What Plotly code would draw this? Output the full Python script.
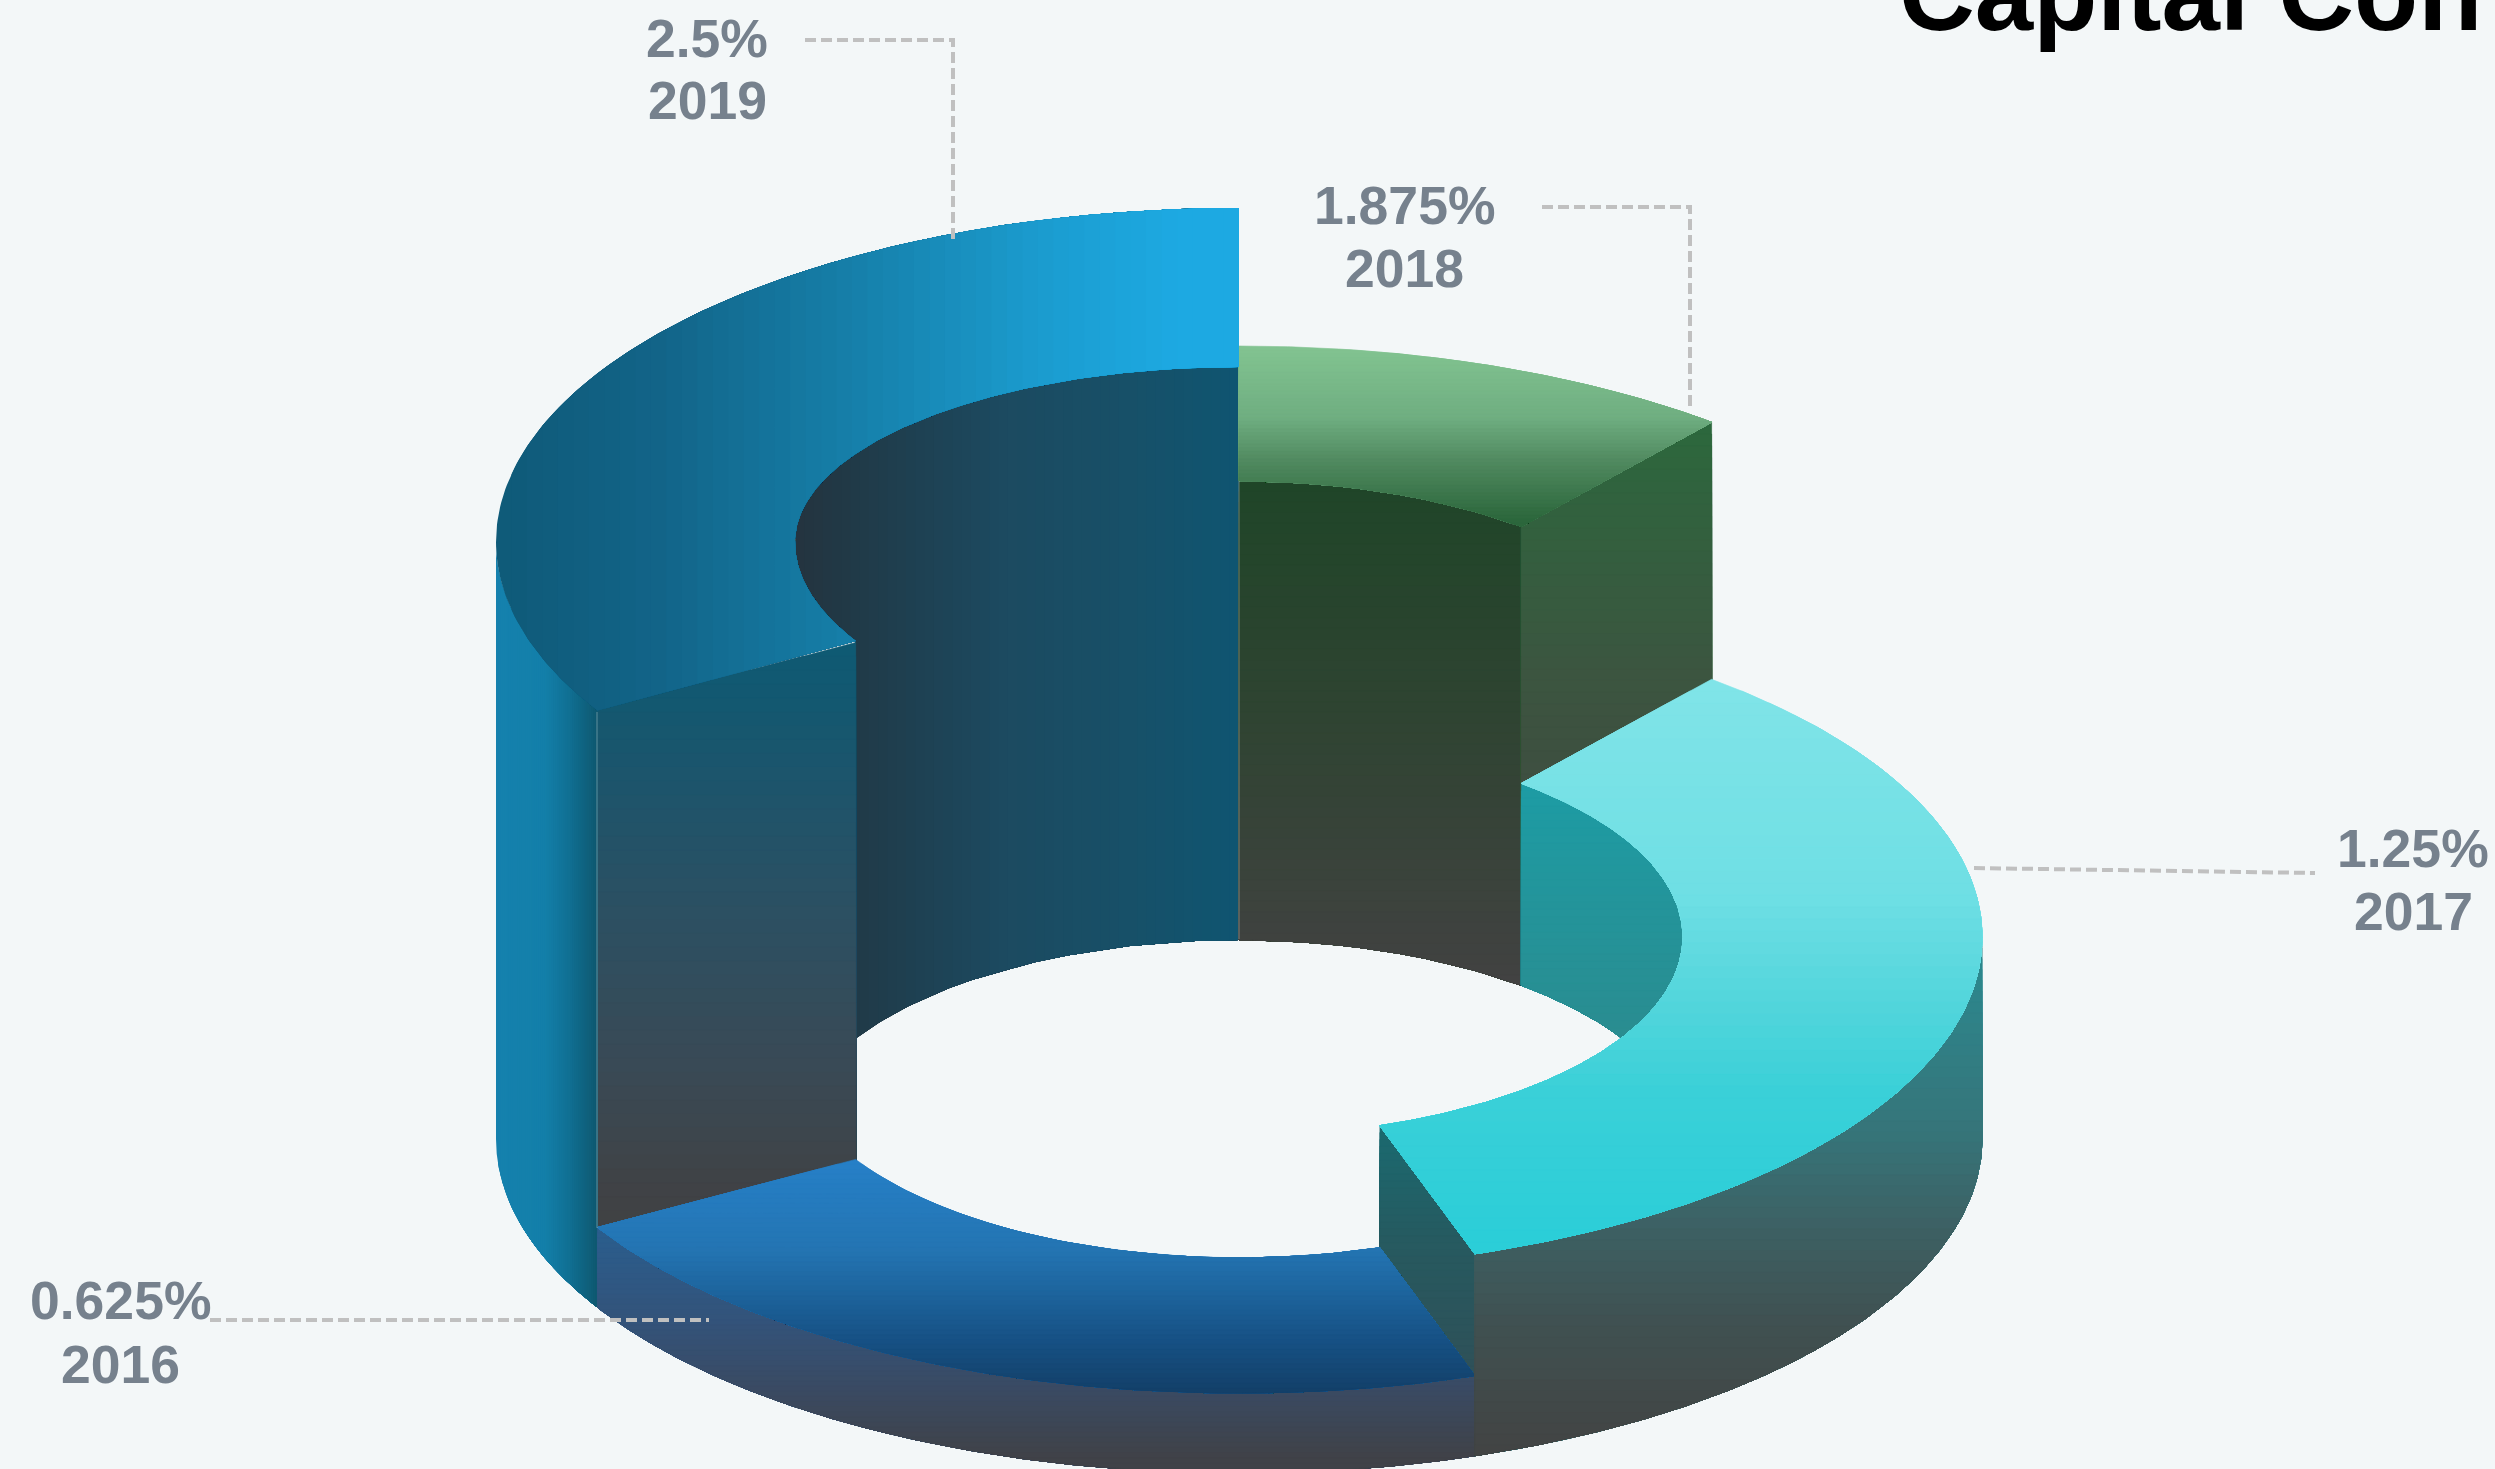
import numpy as np
import plotly.graph_objects as go

# ---- chart content ----
TITLE = "Capital Con"
years = [2018, 2017, 2016, 2019]
values = [1.875, 1.25, 0.625, 2.5]
arc_degrees = [39.5, 122.0, 78.2, 120.3]
wall_heights = [459, 202, 80, 597]

# ---- geometry and style ----
W, H = 2495, 1469
CX, BASE_CY = 1239, 1139
RX, RY = 743, 334
IRX, IRY = 444, 199
BG = "#f3f7f8"
TEXT = "#76818d"
LEADER = "#c0c0c0"
N = 48

tops = {y: BASE_CY - h for y, h in zip(years, wall_heights)}
starts = np.concatenate([[0], np.cumsum(arc_degrees)])
span = {y: (starts[i], starts[i + 1]) for i, y in enumerate(years)}


def pt(theta, rx, ry, cy, ry_up=None):
    t = np.radians(np.asarray(theta, float))
    c = np.cos(t)
    r = np.where(c > 0, ry if ry_up is None else ry_up, ry)
    return np.c_[CX + rx * np.sin(t), cy - r * c]


def arc(a, b, rx, ry, cy, ry_up=None, n=160):
    return pt(np.linspace(a, b, n), rx, ry, cy, ry_up)


def clip_ge(poly, axis, thr):
    out = []
    m = len(poly)
    for i in range(m):
        p, q = poly[i], poly[(i + 1) % m]
        pin, qin = p[axis] >= thr, q[axis] >= thr
        if pin:
            out.append(p)
        if pin != qin:
            s = (thr - p[axis]) / (q[axis] - p[axis])
            out.append(p + s * (q - p))
    return np.array(out) if out else np.empty((0, 2))


def hex2rgb(h):
    return np.array([int(h[i:i + 2], 16) for i in (1, 3, 5)], float)


def colour(stops, v):
    pos = [s[0] for s in stops]
    rgb = np.array([hex2rgb(s[1]) for s in stops])
    c = [np.interp(v, pos, rgb[:, k]) for k in range(3)]
    return "rgb(%d,%d,%d)" % tuple(round(x) for x in c)


fig = go.Figure()


def paint(poly, axis, stops, edge=0.6):
    """Gradient face: nested clips of the polygon, later ones painted on top."""
    poly = np.asarray(poly, float)
    lo, hi = poly[:, axis].min(), poly[:, axis].max()
    edges = np.linspace(lo, hi, N + 1)[:-1]
    step = (hi - lo) / N
    for e in edges:
        p = poly if e == lo else clip_ge(poly, axis, e)
        if len(p) < 3:
            continue
        p = np.round(p, 1)
        col = colour(stops, e + step / 2)
        fig.add_trace(go.Scatter(
            x=list(p[:, 0]) + [p[0, 0]], y=list(p[:, 1]) + [p[0, 1]],
            mode="lines", fill="toself", line=dict(width=edge, color=col),
            fillcolor=col, hoverinfo="skip", showlegend=False))


def ring_top(year, ry_up=None, iry=IRY):
    a, b = span[year]
    cy = tops[year]
    return np.vstack([arc(a, b, RX, RY, cy), arc(b, a, IRX, iry, cy, ry_up)])


def cut(theta, year, ry_up=None):
    cy = tops[year]
    return np.vstack([
        pt([theta], IRX, IRY, cy, ry_up), pt([theta], RX, RY, cy),
        pt([theta], RX, RY, BASE_CY), pt([theta], IRX, IRY, BASE_CY)])


SQUASH_2019 = 175
a19, b19 = span[2019]
a18, b18 = span[2018]
a17, b17 = span[2017]
a16, b16 = span[2016]

# inner walls (back of the hole)
wall19 = np.vstack([
    arc(a19, b19, IRX, 196, tops[2019], SQUASH_2019),
    arc(360, 540 - a19, IRX, IRY, BASE_CY)])
paint(wall19, 0, [(795, "#24343f"), (857, "#203a48"), (1000, "#1c4a60"), (1130, "#175068"), (1239, "#0f5571")], edge=0)

wall18 = np.vstack([arc(a18, b18, IRX, IRY, tops[2018]), arc(b18, a18, IRX, IRY, BASE_CY)])
paint(wall18, 1, [(481, "#1f4528"), (700, "#2e4431"), (985, "#424242")])

# radial cut faces behind the upper surfaces
paint(cut(b18, 2018), 1, [(421, "#2c683d"), (680, "#3c5540"), (987, "#424242")])
wall17 = np.vstack([arc(a17, 90, IRX, IRY, tops[2017]), arc(90, a17, IRX, IRY, BASE_CY)])
paint(wall17, 1, [(784, "#1d9ca4"), (1040, "#2a8c90"), (1140, "#2a8c90")])
paint(cut(a19, 2019), 1, [(642, "#0f5a73"), (693, "#125871"), (904, "#2b5063"), (1063, "#394a56"), (1195, "#404245"), (1310, "#424242")])

# outer wall of 2019 (left edge)
out19 = np.vstack([arc(a19, 270, RX, RY, tops[2019]), arc(270, a19, RX, RY, BASE_CY)])
paint(out19, 0, [(495, "#1581ae"), (545, "#137fa9"), (570, "#106f92"), (597, "#0e5870")], edge=0)

# upper surfaces of the two tall pieces
paint(ring_top(2018), 1, [(346, "#82c491"), (418, "#6fae81"), (462, "#50895f"), (520, "#2c673c")])
paint(ring_top(2019, SQUASH_2019, 196), 0,
      [(495, "#0f5a78"), (658, "#126488"), (857, "#1680aa"), (1042, "#1b9ccf"), (1180, "#1da9e2"), (1239, "#1da9e2")], edge=0)

# 2017 end face, then 2016
paint(cut(b17, 2017), 1, [(1124, "#1a6a70"), (1250, "#27595f"), (1380, "#2f5058")])
out16 = np.vstack([arc(a16, b16, RX, RY, tops[2016]), arc(b16, a16, RX, RY, BASE_CY)])
paint(out16, 1, [(1228, "#2a5e8e"), (1322, "#33537a"), (1391, "#3a4a62"), (1459, "#404248")])
paint(ring_top(2016), 1, [(1157, "#2680c8"), (1248, "#2475b3"), (1301, "#1c6199"), (1343, "#165083"), (1391, "#134069")])

# 2017 outer wall and top
out17 = np.vstack([arc(90, b17, RX, RY, tops[2017]), arc(b17, 90, RX, RY, BASE_CY)])
paint(out17, 1, [(940, "#2a8b91"), (1130, "#36757a"), (1230, "#3d6063"), (1330, "#405050"), (1450, "#424444")])
paint(ring_top(2017), 1, [(680, "#80e4e8"), (896, "#6edfe4"), (994, "#55d6dc"), (1092, "#3ad0d8"), (1239, "#2bced8")])


def line(xs, ys, **kw):
    fig.add_trace(go.Scatter(x=xs, y=ys, mode="lines", hoverinfo="skip", showlegend=False, **kw))


# faint seams
seam = dict(color="rgba(205,210,210,0.45)", width=1)
line([CX, CX], [481, 939], line=seam)
line([597, 597], [712, 1228], line=seam)

# leader lines
lead = dict(color=LEADER, width=4, dash="11px,5px")
line([805, 953, 953], [40, 40, 240], line=lead)
line([1542, 1690, 1690], [207, 207, 406], line=lead)
line([1974, 2315], [868, 873], line=lead)
line([210, 709], [1320, 1320], line=lead)

# labels
label_pos = {2019: (707, 38, 100), 2018: (1404, 205, 268), 2017: (2413, 848, 911), 2016: (120, 1300, 1364)}
for y, v in zip(years, values):
    x0, y1, y2 = label_pos[y]
    for txt, yy in ((f"{v:g}%", y1), (str(y), y2)):
        fig.add_annotation(x=x0, y=yy, text=txt, showarrow=False, xanchor="center", yanchor="middle",
                           font=dict(family="Liberation Sans", size=53.5, color=TEXT, weight=700))

fig.add_annotation(x=1897, y=54, text=TITLE, showarrow=False, xanchor="left", yanchor="bottom",
                   font=dict(family="Liberation Sans", size=105, color="#000000", weight=700))

fig.update_layout(
    width=W, height=H, margin=dict(l=0, r=0, t=0, b=0), autosize=False,
    paper_bgcolor=BG, plot_bgcolor=BG, showlegend=False,
    xaxis=dict(range=[0, W], visible=False, fixedrange=True),
    yaxis=dict(range=[H, 0], visible=False, fixedrange=True),
)
fig.write_html("out.html", config={"displayModeBar": False},
               post_script="document.body.style.margin='0';document.body.style.background='%s';"
                           "document.documentElement.style.overflow='hidden';" % BG)
